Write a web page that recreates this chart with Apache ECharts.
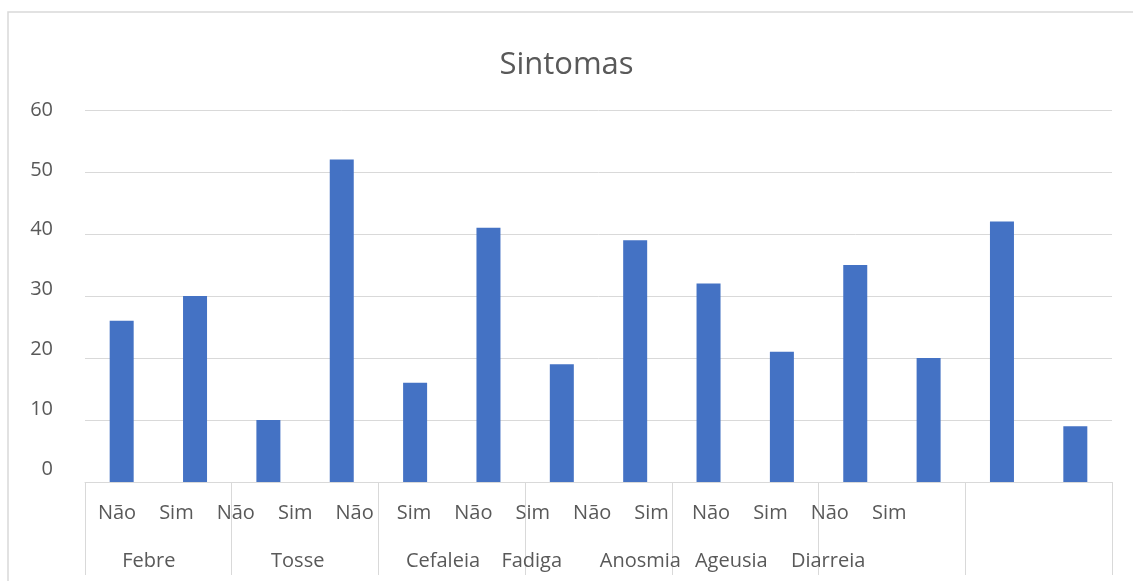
<!DOCTYPE html>
<html>
<head>
<meta charset="utf-8">
<script src="https://cdn.jsdelivr.net/npm/echarts@6/dist/echarts.min.js"></script>
<style>
html,body{margin:0;padding:0;background:#fff;}
#chart{width:1133px;height:581px;}
</style>
</head>
<body>
<div id="chart"></div>
<script>
// ---- data ----
var categories = ['Febre Não','Febre Sim','Tosse Não','Tosse Sim','Cefaleia Não','Cefaleia Sim','Fadiga Não','Fadiga Sim','Anosmia Não','Anosmia Sim','Ageusia Não','Ageusia Sim','Diarreia Não','Diarreia Sim'];
var values = [26, 30, 10, 52, 16, 41, 19, 39, 32, 21, 35, 20, 42, 9];
var subLabels = ['Não','Sim','Não','Sim','Não','Sim','Não','Sim','Não','Sim','Não','Sim','Não','Sim'];
var groupLabels = ['Febre','Tosse','Cefaleia','Fadiga','Anosmia','Ageusia','Diarreia'];
var yTicks = [0, 10, 20, 30, 40, 50, 60];

// ---- layout (label placement, in bar-slot units) ----
var groupLabelPos = [0.87, 2.90, 4.88, 6.09, 7.57, 8.81, 10.13];

var gray = '#595959';
var lineGray = '#d9d9d9';
var font = 'Open Sans';

var chart = echarts.init(document.getElementById('chart'));
chart.setOption({
  animation: false,
  backgroundColor: '#fff',
  textStyle: { fontFamily: font },
  title: {
    text: 'Sintomas',
    left: 'center',
    top: 45,
    textStyle: { fontFamily: font, fontSize: 31, fontWeight: 'normal', color: gray }
  },
  graphic: [{
    type: 'rect', z: -10, silent: true,
    shape: { x: 8, y: 12, width: 1300, height: 800 },
    style: { fill: 'none', stroke: lineGray, lineWidth: 1.5 }
  }],
  grid: [
    { left: 85, right: 21, top: 110, bottom: 99 },      // plot
    { left: 85, right: 21, top: 110, bottom: 112 },     // y labels
    { left: 87.3, width: 831.6, top: 110, bottom: 99 }, // sub labels
    { left: 85, right: 21, top: 110, bottom: 99 }       // group labels
  ],
  xAxis: [
    {
      gridIndex: 0, type: 'category', data: categories, boundaryGap: true,
      axisLine: { show: true, lineStyle: { color: lineGray, width: 1 } },
      axisTick: { show: true, interval: 1, length: 93, lineStyle: { color: lineGray, width: 1 } },
      axisLabel: { show: false }
    },
    { gridIndex: 1, type: 'category', data: categories, show: false },
    {
      gridIndex: 2, type: 'category', data: subLabels, boundaryGap: true,
      axisLine: { show: false }, axisTick: { show: false },
      axisLabel: { show: true, interval: 0, margin: 21, fontSize: 20, color: gray, fontFamily: font }
    },
    {
      gridIndex: 3, type: 'value', min: 0, max: categories.length,
      axisLine: { show: false }, axisTick: { show: false }, splitLine: { show: false },
      axisLabel: {
        show: true, margin: 69, fontSize: 20, color: gray, fontFamily: font,
        customValues: groupLabelPos,
        formatter: function (v) {
          var best = 0, d = 1e9;
          for (var i = 0; i < groupLabelPos.length; i++) {
            var dd = Math.abs(groupLabelPos[i] - v);
            if (dd < d) { d = dd; best = i; }
          }
          return d < 0.05 ? groupLabels[best] : '';
        }
      }
    }
  ],
  yAxis: [
    {
      gridIndex: 0, type: 'value', min: yTicks[0], max: yTicks[yTicks.length - 1], interval: 10,
      axisLine: { show: false }, axisTick: { show: false }, axisLabel: { show: false },
      splitLine: { show: true, lineStyle: { color: lineGray, width: 1 } }
    },
    {
      gridIndex: 1, type: 'value', min: yTicks[0], max: yTicks[yTicks.length - 1], interval: 10,
      axisLine: { show: false }, axisTick: { show: false }, splitLine: { show: false },
      axisLabel: { show: true, margin: 32, fontSize: 20, color: gray, fontFamily: font }
    },
    { gridIndex: 2, type: 'value', show: false, min: 0, max: 60 },
    { gridIndex: 3, type: 'value', show: false, min: 0, max: 60 }
  ],
  series: [{
    type: 'bar',
    xAxisIndex: 0, yAxisIndex: 0,
    data: values,
    barWidth: 24,
    itemStyle: { color: '#4472c4' }
  }]
});
</script>
</body>
</html>
